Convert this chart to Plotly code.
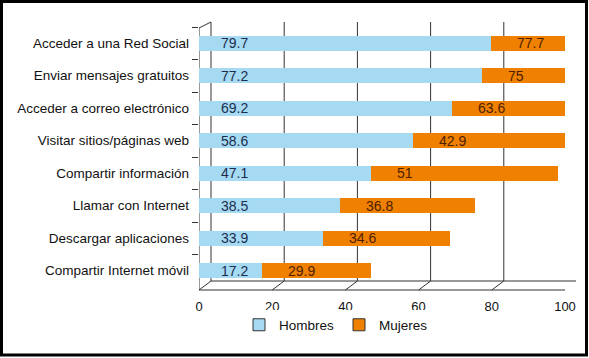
import plotly.graph_objects as go

categories = [
    "Acceder a una Red Social",
    "Enviar mensajes gratuitos",
    "Acceder a correo electrónico",
    "Visitar sitios/páginas web",
    "Compartir información",
    "Llamar con Internet",
    "Descargar aplicaciones",
    "Compartir Internet móvil",
]
hombres = [79.7, 77.2, 69.2, 58.6, 47.1, 38.5, 33.9, 17.2]
mujeres = [77.7, 75, 63.6, 42.9, 51, 36.8, 34.6, 29.9]
x_ticks = [0, 20, 40, 60, 80, 100]

BLUE = "#a6daf2"
ORANGE = "#f08000"
FONT = "Liberation Sans, Arial, sans-serif"

# geometry (pixels)
W, H = 589, 358
L, R, T, B = 199, 13, 22, 68
PW, PH = W - L - R, H - T - B
DX, DY = 12, 9  # perspective offset of back wall


def py(pix):
    return (H - B - pix) / PH


def px(pix):
    return (pix - L) / PW


fig = go.Figure()
fig.add_trace(go.Bar(y=categories, x=hombres, orientation="h", name="Hombres",
                     marker=dict(color=BLUE, line=dict(width=0)), showlegend=False))
fig.add_trace(go.Bar(y=categories, x=mujeres, orientation="h", name="Mujeres",
                     marker=dict(color=ORANGE, line=dict(width=0)), showlegend=False))
# legend entries
fig.add_trace(go.Bar(y=[None], x=[None], orientation="h", name="Hombres",
                     marker=dict(color=BLUE, line=dict(color="#333", width=1))))
fig.add_trace(go.Bar(y=[None], x=[None], orientation="h", name="Mujeres",
                     marker=dict(color=ORANGE, line=dict(color="#333", width=1))))

annotations = []
for c, h, m in zip(categories, hombres, mujeres):
    annotations.append(dict(x=0, y=c, xref="x", yref="y", text=f"{h:g}", showarrow=False,
                            xanchor="left", xshift=20,
                            font=dict(size=14, color="#1b2d4f", family=FONT)))
    annotations.append(dict(x=h, y=c, xref="x", yref="y", text=f"{m:g}", showarrow=False,
                            xanchor="left", xshift=24,
                            font=dict(size=14, color="#4d1f00", family=FONT)))

shapes = []
back_bottom = py(H - B - DY)
for t in x_ticks:
    # back wall gridlines
    shapes.append(dict(type="line", xref="x", xsizemode="pixel", xanchor=t, x0=DX, x1=DX,
                       yref="paper", y0=back_bottom, y1=1, layer="below",
                       line=dict(color="#333", width=1)))
    # floor diagonals
    shapes.append(dict(type="line", xref="x", xsizemode="pixel", xanchor=t, x0=0, x1=DX,
                       yref="paper", y0=0, y1=back_bottom, layer="below",
                       line=dict(color="#333", width=1)))
# floor front / back lines
shapes.append(dict(type="line", xref="x", x0=0, x1=100, yref="paper", y0=0, y1=0,
                   layer="below", line=dict(color="#333", width=1)))
shapes.append(dict(type="line", xref="paper", x0=px(L + DX), x1=1, yref="paper",
                   y0=back_bottom, y1=back_bottom, layer="below", line=dict(color="#333", width=1)))
# left wall
top_front = py(28)
shapes.append(dict(type="line", xref="x", xsizemode="pixel", xanchor=0, x0=0, x1=0,
                   yref="paper", y0=0, y1=top_front, layer="below", line=dict(color="#333", width=1)))
shapes.append(dict(type="line", xref="x", xsizemode="pixel", xanchor=0, x0=0, x1=DX,
                   yref="paper", y0=top_front, y1=1, layer="below", line=dict(color="#333", width=1)))
# outer frame
shapes.append(dict(type="rect", xref="paper", yref="paper", x0=px(1.5), x1=px(586.5),
                   y0=py(355), y1=py(1.5), line=dict(color="#000", width=3), layer="above"))

fig.update_layout(
    width=W, height=H,
    margin=dict(l=L, r=R, t=T, b=B),
    barmode="stack", bargap=0.54,
    plot_bgcolor="white", paper_bgcolor="white",
    font=dict(family=FONT, size=13.5, color="#111"),
    xaxis=dict(domain=[0, (PW - DX + 1) / PW], range=[0, 100], tickvals=x_ticks,
               showgrid=False, zeroline=False, showline=False, ticks="",
               ticklabelstandoff=10, tickfont=dict(size=13, color="#111"), automargin=False),
    yaxis=dict(domain=[py(287), py(27)], type="category", autorange="reversed",
               showgrid=False, zeroline=False, showline=False,
               ticks="outside", tickson="boundaries", ticklen=6, tickcolor="#333",
               ticklabelstandoff=9,
               tickfont=dict(size=13.5, color="#111"), automargin=False),
    legend=dict(orientation="h", x=px(336), xanchor="center", y=py(325), yanchor="middle",
                font=dict(size=13.5, color="#111"), itemwidth=30, traceorder="normal"),
    annotations=annotations,
    shapes=shapes,
)

fig.write_html("out.html", config={"displayModeBar": False},
               post_script="document.body.style.margin='0px';document.body.style.overflow='hidden';")
